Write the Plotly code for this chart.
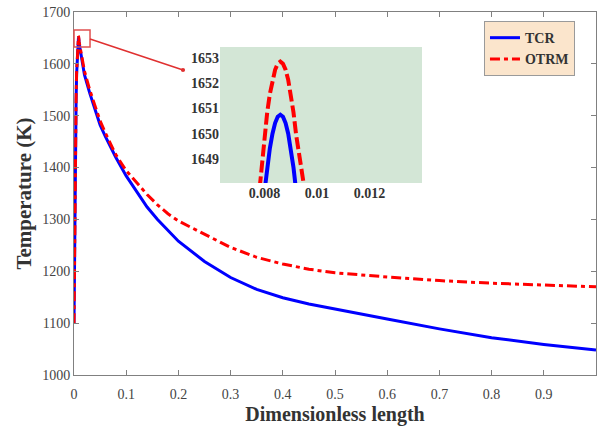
import plotly.graph_objects as go

# Dimensionless length
x_vals = [0, 0.0005, 0.001, 0.002, 0.003, 0.004, 0.005, 0.006, 0.007,
          0.0075, 0.0078, 0.0080, 0.0081, 0.0082, 0.0083, 0.0084, 0.0085, 0.0086,
          0.0087, 0.0088, 0.0089, 0.0090, 0.0091, 0.0092, 0.0094, 0.0097,
          0.012, 0.015, 0.02, 0.03, 0.04, 0.05, 0.06, 0.07, 0.08, 0.1, 0.12,
          0.14, 0.16, 0.18, 0.2, 0.25, 0.3, 0.35, 0.4, 0.45, 0.5, 0.6, 0.7, 0.8, 0.9, 1.0]

tcr = [1100, 1180, 1250, 1370, 1460, 1530, 1580, 1610, 1629.5,
       1640.71, 1645.44, 1647.76, 1648.67, 1649.42, 1650.00, 1650.42, 1650.67, 1650.75,
       1650.67, 1650.42, 1650.00, 1649.42, 1648.67, 1647.76, 1645.44, 1640.71,
       1625, 1605, 1579, 1544, 1512, 1482, 1460, 1439, 1420, 1384, 1353,
       1324, 1300, 1278, 1258, 1219, 1188, 1165, 1149, 1137, 1127, 1108, 1089, 1072, 1059, 1048]

otrm = [1100, 1181, 1252, 1372, 1463, 1533, 1584, 1613, 1632.4,
        1643.17, 1647.73, 1649.97, 1650.85, 1651.57, 1652.13, 1652.53, 1652.77, 1652.85,
        1652.77, 1652.53, 1652.13, 1651.57, 1650.85, 1649.97, 1647.73, 1643.17,
        1630, 1611, 1586, 1550, 1519, 1490, 1467, 1446, 1425, 1394, 1370,
        1348, 1328, 1311, 1297, 1271, 1246, 1227, 1214, 1204, 1197, 1189, 1182, 1177, 1173, 1170]

main_xticks = [0, 0.1, 0.2, 0.3, 0.4, 0.5, 0.6, 0.7, 0.8, 0.9, 1]
main_xlabels = ["0", "0.1", "0.2", "0.3", "0.4", "0.5", "0.6", "0.7", "0.8", "0.9", "1"]
main_yticks = [1000, 1100, 1200, 1300, 1400, 1500, 1600, 1700]
inset_xticks = [0.008, 0.01, 0.012]
inset_xlabels = ["0.008", "0.01", "0.012"]
inset_yticks = [1649, 1650, 1651, 1652, 1653]

BLUE = "#0000ff"
RED = "#ff0000"
FONT = "Liberation Serif"
AX = "#808080"
TXT = "#333333"

fig = go.Figure()
fig.add_trace(go.Scatter(x=x_vals, y=tcr, mode="lines", name="TCR",
                         line=dict(color=BLUE, width=3)))
fig.add_trace(go.Scatter(x=x_vals, y=otrm, mode="lines", name="OTRM",
                         line=dict(color=RED, width=3, dash="10px,4px,4px,4px")))
fig.add_trace(go.Scatter(x=x_vals, y=tcr, mode="lines", showlegend=False,
                         xaxis="x2", yaxis="y2", line=dict(color=BLUE, width=4)))
fig.add_trace(go.Scatter(x=x_vals, y=otrm, mode="lines", showlegend=False,
                         xaxis="x2", yaxis="y2",
                         line=dict(color=RED, width=4, dash="12px,4px")))

tickfont = dict(family=FONT, size=14, color="#444444")

fig.update_layout(
    width=598, height=426,
    margin=dict(l=74, r=2, t=12, b=51),
    paper_bgcolor="white", plot_bgcolor="rgba(0,0,0,0)",
    font=dict(family=FONT, color=TXT),
    xaxis=dict(range=[0, 1], tickvals=main_xticks, ticktext=main_xlabels,
               ticks="inside", ticklen=5, tickcolor=AX, showline=True, linecolor=AX,
               mirror="ticks", showgrid=False, zeroline=False, tickfont=tickfont,
               automargin=False, ticklabelstandoff=6,
               title=dict(text="Dimensionless length", standoff=6,
                          font=dict(family=FONT, size=20, color=TXT, weight="bold"))),
    yaxis=dict(range=[1000, 1700], tickvals=main_yticks,
               ticks="inside", ticklen=5, tickcolor=AX, showline=True, linecolor=AX,
               mirror="ticks", showgrid=False, zeroline=False, tickfont=tickfont,
               automargin=False,
               title=dict(text="Temperature (K)", standoff=4,
                          font=dict(family=FONT, size=21, color=TXT, weight="bold"))),
    xaxis2=dict(domain=[0.2797, 0.6667], anchor="y2", range=[0.0063, 0.0140],
                tickvals=inset_xticks, ticktext=inset_xlabels, ticks="",
                showline=False, showgrid=False, zeroline=False, automargin=False,
                tickfont=dict(family=FONT, size=14, color=TXT, weight="bold")),
    yaxis2=dict(domain=[0.5289, 0.9036], anchor="x2", range=[1648.05, 1653.43],
                tickvals=inset_yticks, ticks="",
                showline=False, showgrid=False, zeroline=False, automargin=False,
                tickfont=dict(family=FONT, size=14, color=TXT, weight="bold")),
    legend=dict(x=0.7854, y=0.975, xanchor="left", yanchor="top",
                bgcolor="#fbe5cc", bordercolor="#9a9a9a", borderwidth=1,
                font=dict(family=FONT, size=14, color=TXT, weight="bold"),
                tracegroupgap=0, itemwidth=30),
    shapes=[
        dict(type="rect", xref="x2 domain", yref="y2 domain", x0=0, x1=1, y0=0, y1=1,
             fillcolor="#d3e6d6", line=dict(width=0), layer="below"),
        dict(type="rect", xref="paper", yref="paper", x0=0.0, x1=0.0307,
             y0=0.9036, y1=0.9504, line=dict(color="#e05050", width=1.5)),
        dict(type="line", xref="paper", yref="paper", x0=0.0307, y0=0.9256,
             x1=0.2088, y1=0.8402, line=dict(color="#e03030", width=1.5)),
        dict(type="circle", xref="paper", yref="paper", x0=0.2088 - 0.004, x1=0.2088 + 0.004,
             y0=0.8402 - 0.0055, y1=0.8402 + 0.0055, fillcolor="#e03030",
             line=dict(color="#e03030", width=0)),
    ],
)

fig.write_html("out.html", config={"displayModeBar": False},
               post_script="document.body.style.margin='0';document.body.style.padding='0';")
